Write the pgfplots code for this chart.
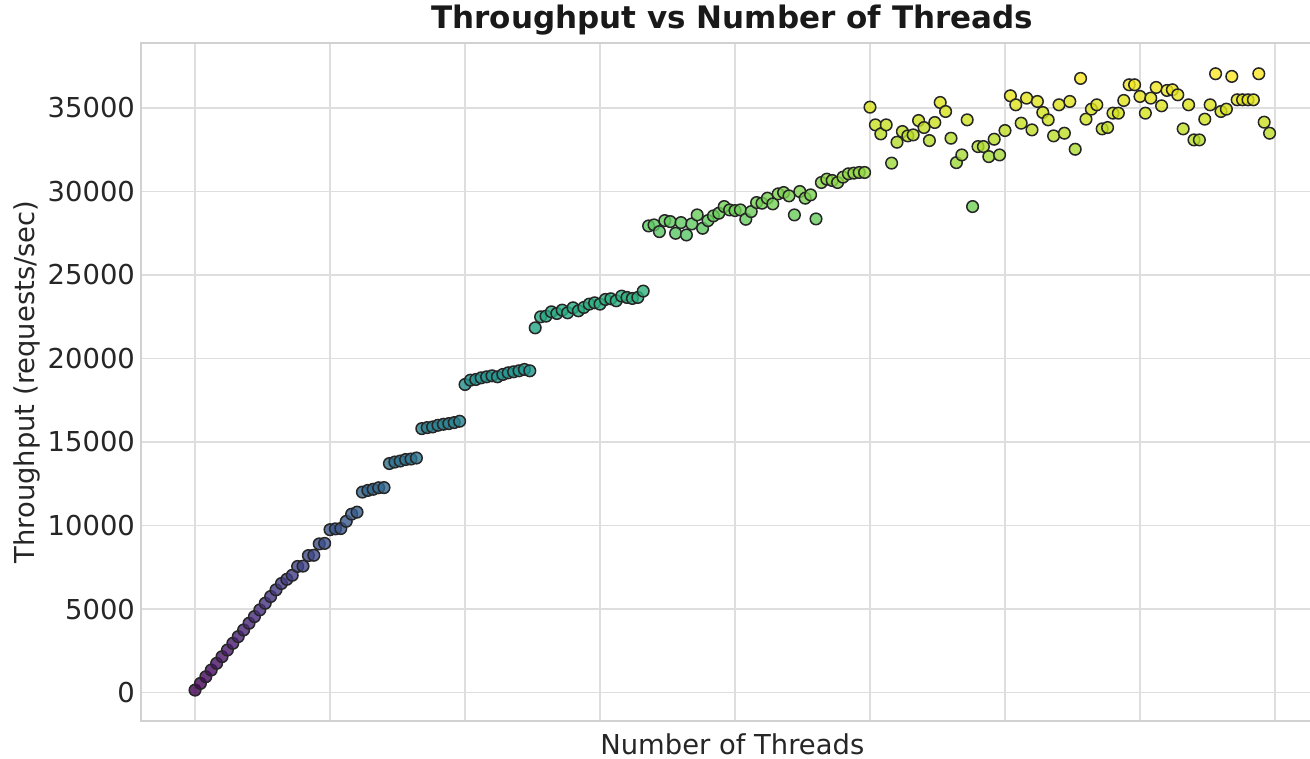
\documentclass[border=0pt]{standalone}
\usepackage{fontspec}
\setmainfont{DejaVu Sans}
\usepackage{pgfplots}
\usepackage{pgfplotstable}
\pgfplotsset{compat=1.18}
\pgfplotstableread{
x y
0 150
1 550
2 950
3 1350
4 1750
5 2150
6 2550
7 2950
8 3350
9 3750
10 4150
11 4550
12 4950
13 5350
14 5750
15 6150
16 6530
17 6780
18 7020
19 7550
20 7570
21 8200
22 8220
23 8900
24 8930
25 9750
26 9800
27 9820
28 10250
29 10680
30 10800
31 12000
32 12100
33 12170
34 12260
35 12270
36 13710
37 13800
38 13860
39 13950
40 13980
41 14040
42 15800
43 15860
44 15900
45 16000
46 16060
47 16100
48 16160
49 16240
50 18440
51 18700
52 18740
53 18840
54 18900
55 18960
56 18900
57 19040
58 19140
59 19200
60 19260
61 19340
62 19260
63 21830
64 22490
65 22530
66 22790
67 22690
68 22890
69 22730
70 23030
71 22850
72 23050
73 23250
74 23330
75 23250
76 23530
77 23570
78 23450
79 23730
80 23650
81 23590
82 23650
83 24030
84 27930
85 27990
86 27590
87 28250
88 28190
89 27490
90 28130
91 27390
92 28050
93 28590
94 27790
95 28250
96 28530
97 28690
98 29090
99 28890
100 28850
101 28890
102 28330
103 28790
104 29330
105 29290
106 29590
107 29250
108 29850
109 29930
110 29730
111 28590
112 29990
113 29590
114 29790
115 28350
116 30530
117 30730
118 30650
119 30530
120 30850
121 31050
122 31090
123 31130
124 31130
125 35040
126 33980
127 33440
128 33980
129 31690
130 32940
131 33580
132 33320
133 33380
134 34240
135 33820
136 33040
137 34120
138 35320
139 34780
140 33180
141 31720
142 32180
143 34280
144 29090
145 32680
146 32680
147 32080
148 33120
149 32180
150 33640
151 35720
152 35180
153 34080
154 35580
155 33680
156 35380
157 34720
158 34280
159 33320
160 35180
161 33480
162 35380
163 32520
164 36760
165 34320
166 34920
167 35180
168 33740
169 33820
170 34680
171 34680
172 35440
173 36380
174 36380
175 35680
176 34680
177 35580
178 36220
179 35120
180 36040
181 36080
182 35780
183 33740
184 35180
185 33080
186 33080
187 34320
188 35180
189 37040
190 34780
191 34920
192 36880
193 35480
194 35480
195 35480
196 35480
197 37040
198 34140
199 33480
}\datatable
\begin{document}
\begin{tikzpicture}
\begin{axis}[
  at={(0,0)}, anchor=south west,
  scale only axis, width=591pt, height=339pt,
  xmin=-9.95, xmax=208.95, ymin=-1700, ymax=38880,
  xtick={0,25,...,200}, xticklabels={},
  ytick={0,5000,...,35000},
  scaled y ticks=false,
  /pgf/number format/assume math mode=true,
  /pgf/number format/1000 sep={},
  yticklabel style={font=\fontsize{13.7}{16}\selectfont, text=black!85, inner xsep=3pt},
  major tick length=0pt,
  grid=major, grid style={draw=black!13, line width=0.8pt},
  axis line style={draw=black!18, line width=0.8pt},
  every axis title/.style={at={(axis description cs:0.5,1.0221)}, anchor=base, font=\fontsize{15.5}{18}\selectfont, text=black!90},
  title={\textbf{Throughput vs Number of Threads}},
  xlabel={Number of Threads},
  xlabel style={font=\fontsize{13.7}{16}\selectfont, text=black!85, at={(axis description cs:0.5,-0.0501)}, anchor=base},
  ylabel={Throughput (requests/sec)},
  ylabel style={font=\fontsize{13.7}{16}\selectfont, text=black!85, at={(axis description cs:-0.0965,0.5)}, anchor=center},
  colormap/viridis,
  point meta min=150, point meta max=37040,
]
\addplot[scatter, only marks, scatter src=y, mark=*, mark size=2.9pt,
  mark options={line width=0.75pt, fill opacity=0.8},
  scatter/use mapped color={draw=black!85, fill=mapped color}]
  table[x=x, y=y] {\datatable};
\end{axis}
\pgfresetboundingbox
\path[use as bounding box] (-70.65pt,-19pt) rectangle (584.35pt,360.5pt);
\end{tikzpicture}
\end{document}
